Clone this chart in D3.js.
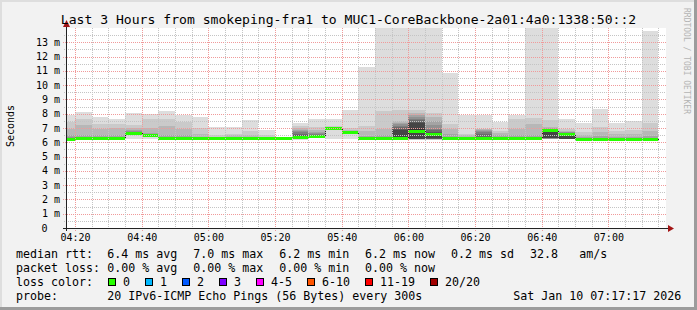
<!DOCTYPE html>
<html><head><meta charset="utf-8">
<script src="https://cdn.jsdelivr.net/npm/d3@7"></script>
<style>
body{margin:0;background:#f2f2f2;}
svg{display:block;}
text{font-family:"DejaVu Sans Mono",monospace;}
</style></head><body>
<svg id="c" width="697" height="310"></svg>
<script>
// ---------------- data ----------------
const titleText = "Last 3 Hours from smokeping-fra1 to MUC1-CoreBackbone-2a01:4a0:1338:50::2";
const yAxisTitle = "Seconds";
const rangeStart = "2026-01-10 04:17:17";
const rangeEnd = "2026-01-10 07:17:17";
const yMax = 14;
const yTickValues = [0,1,2,3,4,5,6,7,8,9,10,11,12,13];
const yTickLabels = ["0","1 m","2 m","3 m","4 m","5 m","6 m","7 m","8 m","9 m","10 m","11 m","12 m","13 m"];

const barStart = ["04:15","04:20","04:25","04:30","04:35","04:40","04:45","04:50","04:55",
  "05:00","05:05","05:10","05:15","05:20","05:25","05:30","05:35","05:40","05:45","05:50","05:55",
  "06:00","06:05","06:10","06:15","06:20","06:25","06:30","06:35","06:40","06:45","06:50","06:55",
  "07:00","07:05","07:10"];

// median rtt per 5-minute step (ms)
const median = [6.24,6.3,6.3,6.3,6.68,6.49,6.27,6.27,6.27,6.27,6.27,6.27,6.27,6.33,6.4,6.42,7.0,6.72,
  6.27,6.27,6.3,6.78,6.56,6.27,6.27,6.27,6.27,6.3,6.3,6.84,6.6,6.25,6.25,6.25,6.25,6.25];

// loss per step (pings lost out of 20)
const loss = [0,0,0,0,0,0,0,0,0,0,0,0,0,0,0,0,0,0,0,0,0,0,0,0,0,0,0,0,0,0,0,0,0,0,0,0];

// 20 sorted ping rtts per step (ms)
const pings = [
  [6.17,6.19,6.2,6.21,6.22,6.23,6.24,6.24,6.25,6.25,6.26,6.27,6.28,6.29,6.31,6.34,6.5,6.9,7.4,7.93],
  [6.2,6.22,6.24,6.26,6.27,6.28,6.29,6.3,6.31,6.32,6.32,6.33,6.34,6.35,6.37,6.4,6.5,7.23,7.6,8.12],
  [6.19,6.21,6.22,6.24,6.25,6.26,6.27,6.28,6.29,6.3,6.3,6.31,6.32,6.33,6.35,6.38,6.5,6.93,7.3,7.77],
  [6.19,6.21,6.22,6.24,6.25,6.26,6.27,6.28,6.29,6.3,6.3,6.31,6.32,6.33,6.35,6.38,6.5,7.02,7.3,7.65],
  [6.23,6.58,6.6,6.62,6.63,6.64,6.65,6.66,6.67,6.68,6.68,6.69,6.7,6.71,6.73,6.76,6.85,7.0,7.21,8.03],
  [6.23,6.4,6.42,6.43,6.44,6.45,6.46,6.47,6.48,6.49,6.49,6.5,6.51,6.52,6.54,6.57,6.65,7.0,7.6,8.0],
  [6.17,6.19,6.2,6.21,6.22,6.23,6.24,6.25,6.26,6.27,6.27,6.28,6.29,6.3,6.32,6.35,6.5,7.14,7.6,8.19],
  [6.17,6.19,6.2,6.21,6.22,6.23,6.24,6.25,6.26,6.27,6.27,6.28,6.29,6.3,6.32,6.34,6.5,6.91,7.4,7.93],
  [6.17,6.19,6.2,6.21,6.22,6.23,6.24,6.25,6.26,6.27,6.27,6.28,6.29,6.3,6.32,6.34,6.4,6.6,7.0,7.77],
  [6.17,6.19,6.2,6.21,6.22,6.23,6.24,6.25,6.26,6.27,6.27,6.28,6.29,6.3,6.32,6.34,6.36,6.4,6.5,7.09],
  [6.17,6.19,6.2,6.21,6.22,6.23,6.24,6.25,6.26,6.27,6.27,6.28,6.29,6.3,6.32,6.34,6.4,6.5,6.58,7.09],
  [6.17,6.19,6.2,6.21,6.22,6.23,6.24,6.25,6.26,6.27,6.27,6.28,6.29,6.3,6.32,6.34,6.4,6.5,6.8,7.57],
  [6.17,6.19,6.2,6.21,6.22,6.23,6.24,6.25,6.26,6.27,6.27,6.28,6.29,6.3,6.32,6.34,6.36,6.4,6.5,6.86],
  [6.26,6.27,6.28,6.29,6.3,6.3,6.31,6.32,6.32,6.33,6.33,6.34,6.34,6.35,6.35,6.36,6.36,6.37,6.38,6.4],
  [6.16,6.3,6.33,6.35,6.36,6.37,6.38,6.38,6.39,6.4,6.4,6.45,6.5,6.6,6.75,6.8,6.86,6.98,7.16,7.36],
  [6.28,6.32,6.35,6.37,6.38,6.39,6.4,6.41,6.41,6.42,6.42,6.43,6.45,6.48,6.55,6.62,6.75,6.86,7.1,7.63],
  [6.23,6.85,6.9,6.92,6.94,6.95,6.96,6.97,6.98,6.99,7.0,7.01,7.02,7.03,7.04,7.05,7.06,7.08,7.12,7.63],
  [6.23,6.6,6.64,6.66,6.67,6.68,6.69,6.7,6.71,6.72,6.72,6.73,6.74,6.75,6.77,6.79,6.82,6.88,7.0,8.26],
  [6.17,6.19,6.2,6.21,6.22,6.23,6.24,6.25,6.26,6.27,6.27,6.28,6.29,6.3,6.32,6.34,6.45,6.8,7.16,11.29],
  [6.17,6.19,6.2,6.21,6.22,6.23,6.24,6.25,6.26,6.27,6.27,6.28,6.29,6.3,6.32,6.34,6.5,6.9,8.2,15.5],
  [6.18,6.19,6.2,6.21,6.22,6.23,6.24,6.25,6.26,6.28,6.4,6.85,6.93,7.05,7.16,7.25,7.35,7.5,8.26,16],
  [6.18,6.19,6.2,6.21,6.22,6.22,6.23,6.23,6.24,6.65,6.9,7.33,7.45,7.56,7.65,7.8,7.9,8.03,8.26,16.5],
  [6.18,6.19,6.2,6.21,6.22,6.23,6.23,6.24,6.3,6.5,6.6,6.65,6.75,6.86,6.95,7.2,7.51,7.8,8.03,15],
  [6.17,6.19,6.2,6.21,6.22,6.23,6.24,6.25,6.26,6.27,6.27,6.28,6.29,6.3,6.32,6.34,6.6,6.9,7.28,10.86],
  [6.17,6.19,6.2,6.21,6.22,6.23,6.24,6.25,6.26,6.27,6.27,6.28,6.29,6.3,6.32,6.34,6.4,6.5,6.6,7.93],
  [6.17,6.19,6.2,6.21,6.22,6.23,6.24,6.25,6.26,6.27,6.27,6.3,6.4,6.55,6.7,6.8,6.85,6.9,6.95,7.93],
  [6.17,6.19,6.2,6.21,6.22,6.23,6.24,6.25,6.26,6.27,6.27,6.28,6.29,6.3,6.32,6.34,6.5,6.65,6.77,7.44],
  [6.19,6.21,6.22,6.24,6.25,6.26,6.27,6.28,6.29,6.3,6.3,6.31,6.32,6.33,6.35,6.38,6.5,6.9,7.63,7.93],
  [6.19,6.21,6.22,6.24,6.25,6.26,6.27,6.28,6.29,6.3,6.3,6.31,6.32,6.33,6.35,6.38,6.5,7.28,7.68,15],
  [6.2,6.22,6.24,6.25,6.26,6.27,6.28,6.29,6.3,6.82,6.86,6.87,6.88,6.9,6.92,6.95,7.0,7.1,7.56,15.5],
  [6.2,6.21,6.22,6.23,6.23,6.24,6.24,6.25,6.25,6.58,6.62,6.63,6.65,6.66,6.68,6.7,6.75,6.8,6.9,7.63],
  [6.16,6.18,6.19,6.2,6.21,6.22,6.23,6.24,6.24,6.25,6.25,6.26,6.27,6.28,6.3,6.33,6.4,6.5,6.7,7.37],
  [6.16,6.18,6.19,6.2,6.21,6.22,6.23,6.24,6.24,6.25,6.25,6.26,6.27,6.28,6.3,6.33,6.45,6.7,7.05,8.36],
  [6.16,6.18,6.19,6.2,6.21,6.22,6.23,6.24,6.24,6.25,6.25,6.26,6.27,6.28,6.3,6.33,6.4,6.6,6.81,7.35],
  [6.16,6.18,6.19,6.2,6.21,6.22,6.23,6.24,6.24,6.25,6.25,6.26,6.27,6.28,6.3,6.33,6.4,6.6,6.85,7.51],
  [6.16,6.18,6.19,6.2,6.21,6.22,6.23,6.24,6.24,6.25,6.25,6.26,6.27,6.28,6.3,6.33,6.45,6.8,7.35,13.81]
];

const rttLabel = "median rtt:";
const rttStats = ["6.4 ms avg","7.0 ms max","6.2 ms min","6.2 ms now","0.2 ms sd","32.8","am/s"];
const lossLabel = "packet loss:";
const lossStats = ["0.00 % avg","0.00 % max","0.00 % min","0.00 % now"];
const lossColorLabel = "loss color:";
const lossClasses = ["0","1","2","3","4-5","6-10","11-19","20/20"];
const lossUpper = [0,1,2,3,5,10,19,20];
const probeLabel = "probe:";
const probeText = "20 IPv6-ICMP Echo Pings (56 Bytes) every 300s";
const dateText = "Sat Jan 10 07:17:17 2026";
const watermark = "RRDTOOL / TOBI OETIKER";

// ---------------- styles ----------------
const lossColors = ["#26ff00","#00b8ff","#0059ff","#7e00ff","#ff00ff","#ff5500","#ff0000","#a10000"];
const smokeColors = ["#dddddd","#cacaca","#b7b7b7","#a4a4a4","#919191","#7e7e7e","#6b6b6b","#585858","#454545","#323232"];

// ---------------- layout ----------------
const X0 = 66, X1 = 666, Y0 = 228, Y1 = 28;
const svg = d3.select("#c");
const parse = d3.timeParse("%Y-%m-%d %H:%M:%S");
const t0 = parse(rangeStart), t1 = parse(rangeEnd);
const x = d3.scaleTime().domain([t0, t1]).range([X0, X1]);
const y = d3.scaleLinear().domain([0, yMax]).range([Y0, Y1]);
const day = rangeStart.slice(0, 10);
const starts = barStart.map(s => parse(day + " " + s + ":00"));
const ends = starts.map(d => d3.timeMinute.offset(d, 5));
const px = v => Math.round(v) + 0.5;

// background border (rrdtool shade)
svg.append("rect").attr("x",0).attr("y",0).attr("width",697).attr("height",310).attr("fill","#f2f2f2");
svg.append("rect").attr("x",0).attr("y",0).attr("width",697).attr("height",2).attr("fill","#dedede");
svg.append("rect").attr("x",0).attr("y",0).attr("width",2).attr("height",310).attr("fill","#dedede");
svg.append("rect").attr("x",0).attr("y",307).attr("width",697).attr("height",3).attr("fill","#9c9c9c");
svg.append("rect").attr("x",694).attr("y",0).attr("width",3).attr("height",310).attr("fill","#9c9c9c");

// canvas
svg.append("rect").attr("x",X0).attr("y",Y1).attr("width",X1-X0).attr("height",Y0-Y1).attr("fill","#ffffff");

svg.append("clipPath").attr("id","plot").append("rect")
  .attr("x",X0).attr("y",Y1).attr("width",X1-X0).attr("height",Y0-Y1);
const plot = svg.append("g").attr("clip-path","url(#plot)");

// smoke
const smoke = plot.append("g").attr("shape-rendering","crispEdges");
pings.forEach((p, i) => {
  const xa = Math.round(x(starts[i])), xb = Math.round(x(ends[i]));
  for (let k = 0; k < 10; k++) {
    const lo = p[k], hi = p[19-k];
    const ya = Math.round(y(hi)), yb = Math.round(y(lo));
    smoke.append("rect").attr("x", xa).attr("width", xb - xa)
      .attr("y", ya).attr("height", Math.max(0, yb - ya))
      .attr("fill", smokeColors[k]);
  }
});

// grid
const grid = svg.append("g").attr("shape-rendering","crispEdges").attr("stroke-width",1).attr("stroke-dasharray","1,1");
const minorY = d3.range(1, yMax*2).map(v => v/2).filter(v => v % 1 !== 0);
const majorY = yTickValues.filter(v => v > 0);
minorY.forEach(v => grid.append("line").attr("x1",X0-2).attr("x2",X1).attr("y1",px(y(v))).attr("y2",px(y(v))).attr("stroke","#c4c4c4"));
majorY.forEach(v => grid.append("line").attr("x1",X0-3).attr("x2",X1).attr("y1",px(y(v))).attr("y2",px(y(v))).attr("stroke","#f09a9a"));
const minorX = x.ticks(d3.timeMinute.every(5)).filter(d => d.getMinutes() % 20 !== 0);
const majorX = x.ticks(d3.timeMinute.every(20));
minorX.forEach(d => grid.append("line").attr("x1",px(x(d))).attr("x2",px(x(d))).attr("y1",Y1).attr("y2",Y0+2).attr("stroke","#c4c4c4"));
majorX.forEach(d => grid.append("line").attr("x1",px(x(d))).attr("x2",px(x(d))).attr("y1",Y1).attr("y2",Y0+3).attr("stroke","#f09a9a"));

// median: black step line then loss-coloured band
const medPts = starts.map((d,i) => [x(d), y(median[i])]);
medPts.push([x(ends[ends.length-1]), y(median[median.length-1])]);
plot.append("path").attr("d", d3.line().curve(d3.curveStepAfter)(medPts.map(p => [Math.round(p[0])+0.5, Math.round(p[1])+0.5])))
  .attr("fill","none").attr("stroke","#202020").attr("stroke-width",1).attr("shape-rendering","crispEdges");
const lossIdx = l => lossUpper.findIndex(u => l <= u);
plot.append("g").attr("shape-rendering","crispEdges").selectAll("rect").data(median).join("rect")
  .attr("x",(d,i) => Math.round(x(starts[i])))
  .attr("width",(d,i) => Math.round(x(ends[i])) - Math.round(x(starts[i])))
  .attr("y", d => Math.round(y(d)) - 1)
  .attr("height", 3)
  .attr("fill", (d,i) => lossColors[lossIdx(loss[i])]);

// axes
const ax = svg.append("g").attr("shape-rendering","crispEdges");
ax.append("line").attr("x1",X0-3).attr("x2",X1+3).attr("y1",Y0+0.5).attr("y2",Y0+0.5).attr("stroke","#222");
ax.append("line").attr("x1",X0+0.5).attr("x2",X0+0.5).attr("y1",Y0+3).attr("y2",Y1-4).attr("stroke","#222");
svg.append("path").attr("d",`M${X1+2},${Y0-3} L${X1+8},${Y0+0.5} L${X1+2},${Y0+4} Z`).attr("fill","#a31515");
svg.append("path").attr("d",`M${X0-3},${Y1-1} L${X0+0.5},${Y1-8} L${X0+4},${Y1-1} Z`).attr("fill","#a31515");

// y tick labels (unit-less zero keeps the unit column blank)
svg.append("g").selectAll("text").data(yTickValues).join("text")
  .attr("x", d => d === 0 ? 47.5 : 60).attr("y", d => y(d) + 3.5)
  .attr("text-anchor","end").attr("font-size","10px").attr("fill","#000")
  .text((d,i) => yTickLabels[i]);

// x tick labels
const fmt = d3.timeFormat("%H:%M");
svg.append("g").selectAll("text").data(majorX).join("text")
  .attr("x", d => x(d) + 0.5).attr("y", 241)
  .attr("text-anchor","middle").attr("font-size","10px").attr("fill","#000")
  .text(d => fmt(d));

// titles
svg.append("text").attr("x",348.5).attr("y",24).attr("text-anchor","middle")
  .attr("font-size","13.1px").attr("fill","#000").text(titleText);
svg.append("text").attr("transform","translate(14,126) rotate(-90)").attr("text-anchor","middle")
  .attr("font-size","10px").attr("fill","#000").text(yAxisTitle);
svg.append("text").attr("transform","translate(684,61) rotate(90)").attr("text-anchor","middle")
  .attr("font-size","8px").attr("fill","#b4b4b4").text(watermark);

// legend
const lg = svg.append("g").attr("font-size","11.63px").attr("fill","#000");
const rowY = [258, 272, 286, 300];
const colX = [107.3, 193.3, 279.3, 365, 451, 530, 579.3];
lg.append("text").attr("x",16).attr("y",rowY[0]).text(rttLabel);
rttStats.forEach((s,i) => lg.append("text").attr("x",colX[i]).attr("y",rowY[0]).text(s));
lg.append("text").attr("x",16).attr("y",rowY[1]).text(lossLabel);
lossStats.forEach((s,i) => lg.append("text").attr("x",colX[i]).attr("y",rowY[1]).text(s));
lg.append("text").attr("x",16).attr("y",rowY[2]).text(lossColorLabel);
let sx = 108;
lossClasses.forEach((s,i) => {
  svg.append("rect").attr("x",sx+0.5).attr("y",278.5).attr("width",7).attr("height",7)
    .attr("fill",lossColors[i]).attr("stroke","#000").attr("stroke-width",1).attr("shape-rendering","crispEdges");
  lg.append("text").attr("x",sx+15).attr("y",rowY[2]).text(s);
  sx += 37 + (s.length - 1) * 7;
});
lg.append("text").attr("x",16).attr("y",rowY[3]).text(probeLabel);
lg.append("text").attr("x",107.3).attr("y",rowY[3]).text(probeText);
lg.append("text").attr("x",513.3).attr("y",rowY[3]).text(dateText);
</script>
</body></html>
